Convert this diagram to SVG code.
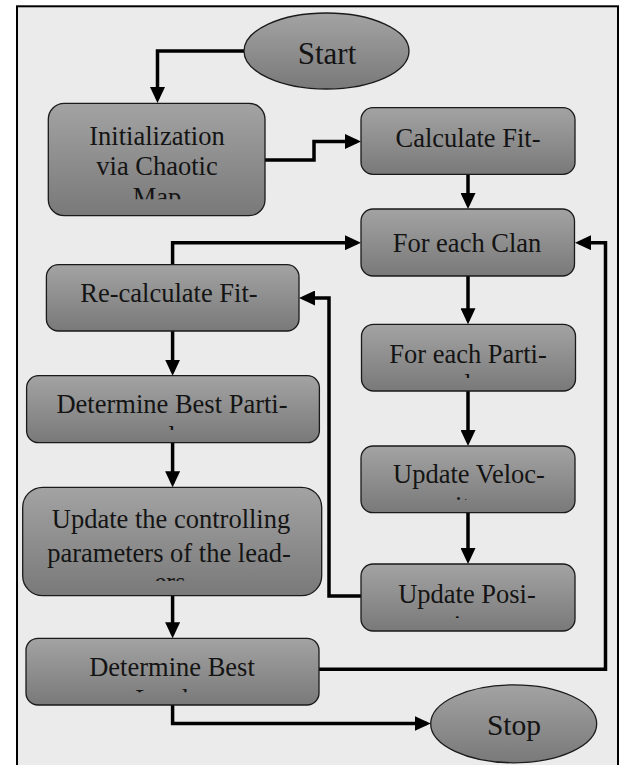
<svg xmlns="http://www.w3.org/2000/svg" width="622" height="765" viewBox="0 0 622 765">
<style>
.node{fill:url(#g);stroke:#1a1a1a;stroke-width:1.3}
.t{font-family:"Liberation Serif","Times New Roman",serif;font-size:26.5px;fill:#141414;text-anchor:middle}
.big{font-size:31px}
.c{fill:none;stroke:#000;stroke-width:3.5;marker-end:url(#a)}
</style>
<defs>
<linearGradient id="g" x1="0" y1="0" x2="0" y2="1">
<stop offset="0" stop-color="#a3a3a3"/>
<stop offset="1" stop-color="#797979"/>
</linearGradient>
<marker id="a" markerUnits="userSpaceOnUse" markerWidth="16" markerHeight="15" refX="12" refY="7.5" orient="auto">
<path d="M0,0 L16,7.5 L0,15 z" fill="#000"/>
</marker>
<clipPath id="ci"><rect x="48" y="103" width="217" height="96.3"/></clipPath>
<clipPath id="cp"><rect x="361" y="324" width="215" height="54"/></clipPath>
<clipPath id="cd"><rect x="26" y="375" width="294" height="55"/></clipPath>
<clipPath id="cv"><rect x="361" y="446" width="215" height="54"/></clipPath>
<clipPath id="cu"><rect x="22" y="487" width="300" height="94"/></clipPath>
<clipPath id="cq"><rect x="361" y="564" width="215" height="54"/></clipPath>
<clipPath id="cb"><rect x="26" y="638" width="294" height="54.2"/></clipPath>
</defs>
<rect x="0" y="0" width="622" height="765" fill="#fff"/>
<rect x="17" y="6.3" width="601" height="780" fill="#ebebeb" stroke="#000" stroke-width="2"/>
<g id="connectors">
<path class="c" d="M244,51 H157.5 V99"/>
<path class="c" d="M265,160 H314 V141.5 H357"/>
<path class="c" d="M468,174.3 V205"/>
<path class="c" d="M172.6,265 V242.7 H357"/>
<path class="c" d="M468,276 V320.3"/>
<path class="c" d="M468,391 V442"/>
<path class="c" d="M468,512.7 V560"/>
<path class="c" d="M361,596 H329 V298 H303"/>
<path class="c" d="M172.6,331 V371.7"/>
<path class="c" d="M172.6,442.7 V483.3"/>
<path class="c" d="M172.6,595.7 V634.3"/>
<path class="c" d="M319,669.3 H605.5 V242.7 H579"/>
<path class="c" d="M172.6,705 V723.5 H426.7"/>
</g>
<g id="start">
<ellipse class="node" cx="326.5" cy="51" rx="82.5" ry="38"/>
<text class="t big" x="327" y="64">Start</text>
</g>
<g id="init">
<rect class="node" x="48.3" y="103.3" width="216.7" height="112.4" rx="16"/>
<g clip-path="url(#ci)">
<text class="t" x="157" y="145">Initialization</text>
<text class="t" x="157" y="175">via Chaotic</text>
<text class="t" x="157" y="206">Map</text>
</g>
</g>
<g id="calc">
<rect class="node" x="361" y="107.7" width="214" height="66.6" rx="12"/>
<text class="t" x="468" y="147">Calculate Fit-</text>
</g>
<g id="clan">
<rect class="node" x="361" y="209" width="213.5" height="67" rx="12"/>
<text class="t" x="467" y="251.5">For each Clan</text>
</g>
<g id="recalc">
<rect class="node" x="46.4" y="264.7" width="252.6" height="66.3" rx="12"/>
<text class="t" x="169" y="301.7">Re-calculate Fit-</text>
</g>
<g id="parti">
<rect class="node" x="361.5" y="324.3" width="214" height="66.7" rx="12"/>
<g clip-path="url(#cp)">
<text class="t" x="468" y="362.7">For each Parti-</text>
<text class="t" x="468" y="393">cle</text>
</g>
</g>
<g id="detparti">
<rect class="node" x="26.6" y="375.7" width="292.8" height="67" rx="12"/>
<g clip-path="url(#cd)">
<text class="t" x="172" y="413">Determine Best Parti-</text>
<text class="t" x="172" y="444.5">cle</text>
</g>
</g>
<g id="veloc">
<rect class="node" x="361" y="446" width="214" height="66.7" rx="12"/>
<g clip-path="url(#cv)">
<text class="t" x="469" y="483.3">Update Veloc-</text>
<text class="t" x="469" y="514.5">ity</text>
</g>
</g>
<g id="control">
<rect class="node" x="22.7" y="487.3" width="299" height="108.4" rx="20"/>
<g clip-path="url(#cu)">
<text class="t" x="171" y="528.3">Update the controlling</text>
<text class="t" x="169" y="561.5">parameters of the lead-</text>
<text class="t" x="170" y="591">ers</text>
</g>
</g>
<g id="posi">
<rect class="node" x="361" y="564" width="214" height="67" rx="12"/>
<g clip-path="url(#cq)">
<text class="t" x="467" y="602.7">Update Posi-</text>
<text class="t" x="467" y="633.5">tion</text>
</g>
</g>
<g id="detbest">
<rect class="node" x="26" y="638.3" width="293" height="66.7" rx="12"/>
<g clip-path="url(#cb)">
<text class="t" x="172" y="676">Determine Best</text>
<text class="t" x="172" y="707.5">Leader</text>
</g>
</g>
<g id="stop">
<ellipse class="node" cx="513.7" cy="723.8" rx="83" ry="39"/>
<text class="t" x="514" y="735" style="font-size:29.5px">Stop</text>
</g>
</svg>
